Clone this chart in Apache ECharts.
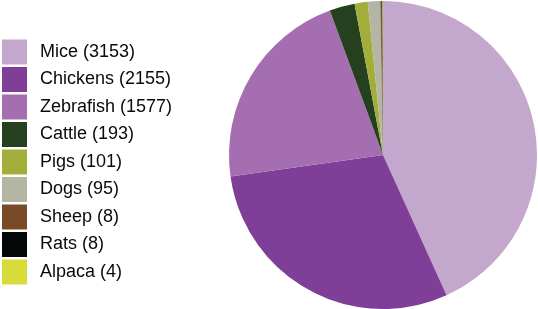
<!DOCTYPE html>
<html><head><meta charset="utf-8">
<script src="https://cdn.jsdelivr.net/npm/echarts@6/dist/echarts.min.js"></script>
<style>html,body{margin:0;padding:0;background:#fff}#c{width:538px;height:309px}</style>
</head><body><div id="c"></div>
<script>
const categories = ["Mice","Chickens","Zebrafish","Cattle","Pigs","Dogs","Sheep","Rats","Alpaca"];
const values = [3153,2155,1577,193,101,95,8,8,4];
const colors = ["#C4A7CC","#7F3F98","#A56EB0","#24401E","#A3AE3A","#B4B6A3","#784A27","#050808","#D8DC3A"];
const chart = echarts.init(document.getElementById('c'), null, {renderer:'canvas'});
chart.setOption({
  animation:false,
  color:colors,
  legend:{
    orient:'vertical', left:2, top:39.5, padding:0, itemWidth:25, itemHeight:25, itemGap:2.5,
    icon:'rect', data:categories,
    formatter:function(n){return n+' ('+values[categories.indexOf(n)]+')';},
    textStyle:{fontFamily:'Liberation Sans, Arial, sans-serif', fontSize:18, color:'#0a0a0a', padding:[0,0,0,8]}
  },
  series:[{
    type:'pie', center:[383,155], radius:154, startAngle:90, clockwise:true,
    label:{show:false}, labelLine:{show:false}, emphasis:{disabled:true},
    data:categories.map((c,i)=>({name:c,value:values[i]}))
  }]
});
</script></body></html>
